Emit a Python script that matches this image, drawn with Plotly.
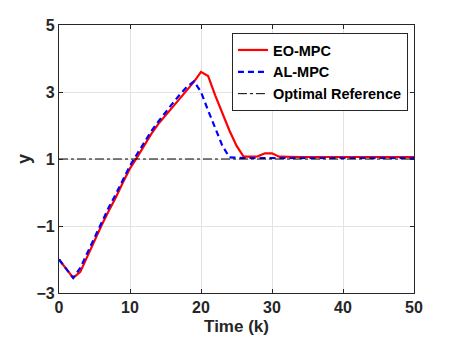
import plotly.graph_objects as go

# time steps
k = list(range(0, 51))

# EO-MPC response
eo_mpc = [-2.0, -2.28, -2.55, -2.37, -1.9, -1.43, -0.98, -0.55, -0.15, 0.3,
          0.72, 1.05, 1.4, 1.75, 2.05, 2.3, 2.55, 2.8, 3.02, 3.3,
          3.6, 3.48, 2.9, 2.35, 1.85, 1.4, 1.07, 1.07, 1.08, 1.17,
          1.17, 1.07] + [1.06] * 19

# AL-MPC response
al_mpc = [-2.0, -2.28, -2.55, -2.25, -1.8, -1.33, -0.88, -0.45, -0.05, 0.38,
          0.8, 1.15, 1.5, 1.83, 2.12, 2.4, 2.66, 2.92, 3.15, 3.32,
          3.0, 2.45, 1.92, 1.4, 1.05] + [1.03] * 26

ref_x = [0, 50]
ref_y = [1, 1]

x_ticks = [0, 10, 20, 30, 40, 50]
y_ticks = [-3, -1, 1, 3, 5]

FONT = "Liberation Sans, Arial, sans-serif"

fig = go.Figure()
fig.add_trace(go.Scatter(x=k, y=eo_mpc, mode="lines", name="EO-MPC",
                         line=dict(color="#ff0000", width=2.2)))
fig.add_trace(go.Scatter(x=k, y=al_mpc, mode="lines", name="AL-MPC",
                         line=dict(color="#0000ff", width=2.2, dash="6px,4px")))
fig.add_trace(go.Scatter(x=ref_x, y=ref_y, mode="lines", name="Optimal Reference",
                         line=dict(color="#000000", width=1, dash="dashdot")))

axis_common = dict(
    showline=True, linecolor="#262626", linewidth=1.2, mirror="ticks",
    ticks="inside", ticklen=4, tickcolor="#262626",
    showgrid=True, gridcolor="#e3e3e3", gridwidth=1, zeroline=False,
    automargin=False,
    tickfont=dict(family=FONT, size=16, color="#262626", weight="bold"),
)

fig.update_xaxes(range=[0, 50], tickvals=x_ticks,
                 title=dict(text="<b>Time (k)</b>", font=dict(family=FONT, size=17, color="#262626"),
                            standoff=4),
                 **axis_common)
fig.update_yaxes(range=[-3, 5], tickvals=y_ticks,
                 title=dict(text="<b>y</b>", font=dict(family=FONT, size=18, color="#262626"),
                            standoff=1),
                 **axis_common)

# the page adds ~8px body margin, so margins are shifted to compensate
fig.update_layout(
    width=458, height=343,
    margin=dict(l=51, r=52, t=17, b=58),
    paper_bgcolor="white", plot_bgcolor="white",
    showlegend=True,
    legend=dict(x=0.983, y=0.97, xanchor="right", yanchor="top",
                bgcolor="white", bordercolor="#262626", borderwidth=1,
                font=dict(family=FONT, size=14.5, color="#000000", weight="bold"),
                tracegroupgap=0, itemwidth=30),
)

fig.write_html("out.html")
